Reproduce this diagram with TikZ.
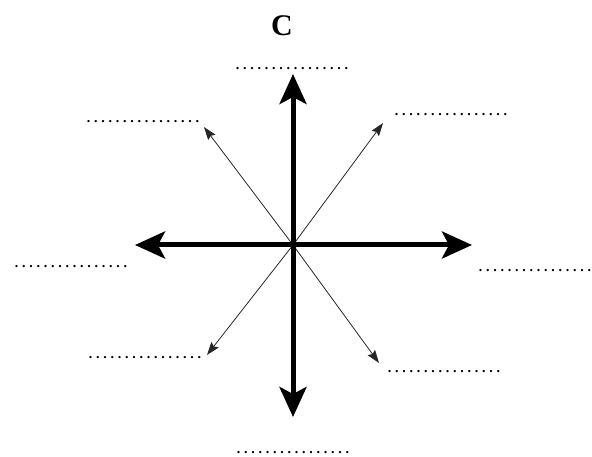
\documentclass[tikz,border=0pt]{standalone}
\usepackage{fontspec}
\setmainfont{Liberation Serif}
\usetikzlibrary{arrows.meta}
\newcommand{\blankline}{\hbox to 116pt{\leaders\hbox to 7.25pt{\hss.\hss}\hfill}}
\tikzset{
  major/.style={line width=5pt, -{Stealth[length=30pt, width=27pt, inset=7pt]}},
  minor/.style={line width=0.8pt, draw=black!85, -{Stealth[length=13pt, width=9pt, inset=2pt]}},
  blank/.style={inner sep=0pt, anchor=base, font=\fontsize{14}{14}\selectfont\bfseries},
  letter/.style={font=\fontsize{30}{30}\selectfont\bfseries}}

\begin{document}
\begin{tikzpicture}[x=1pt, y=-1pt]
  \useasboundingbox (0,0) rectangle (592,457);
  % centre and arrow tips
  \coordinate (o) at (293,245);
  \coordinate (n) at (293,74);
  \coordinate (s) at (293,417);
  \coordinate (w) at (135,245);
  \coordinate (e) at (472,245);
  \coordinate (ne) at (383,123);
  \coordinate (nw) at (204,127);
  \coordinate (sw) at (207,355);
  \coordinate (se) at (379,363);
  % title letter
  \node[letter] (title) at (282,26) {C};
  % blank lines to fill in
  \node[blank] (ln) at (292,70) {\blankline};
  \node[blank] (lne) at (451,116) {\blankline};
  \node[blank] (lnw) at (143,123) {\blankline};
  \node[blank] (lw) at (71,268) {\blankline};
  \node[blank] (le) at (535,272) {\blankline};
  \node[blank] (lsw) at (145,358) {\blankline};
  \node[blank] (lse) at (444,372) {\blankline};
  \node[blank] (ls) at (293,453) {\blankline};
  % diagonal arrows
  \draw[minor] (o) -- (ne); \draw[minor] (o) -- (nw);
  \draw[minor] (o) -- (sw); \draw[minor] (o) -- (se);
  % main arrows
  \draw[major] (o) -- (n); \draw[major] (o) -- (s);
  \draw[major] (o) -- (w); \draw[major] (o) -- (e);
\end{tikzpicture}
\end{document}
